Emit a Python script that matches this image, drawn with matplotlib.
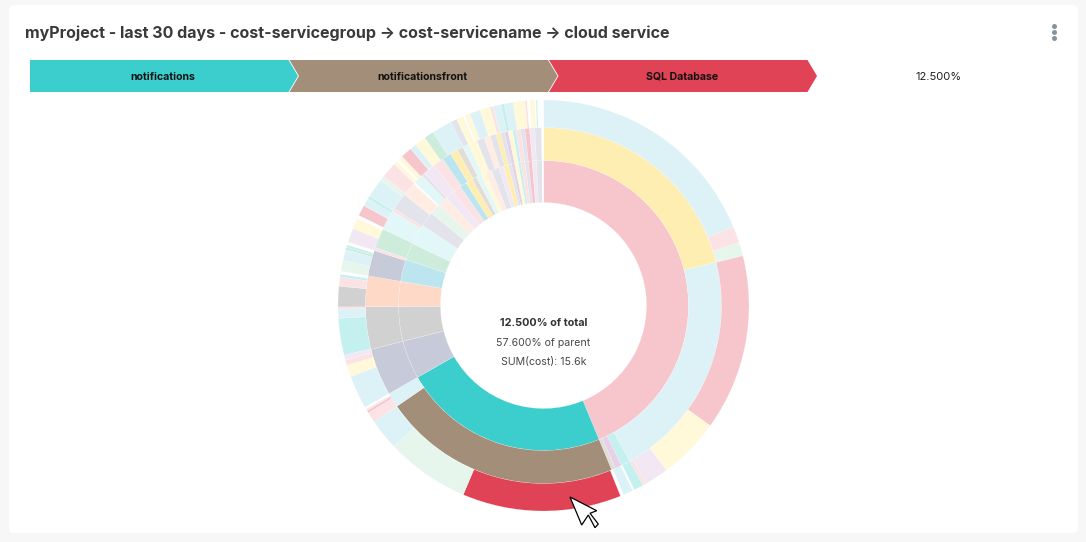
"""Sunburst of cost by service group, service name and cloud service."""

import matplotlib
matplotlib.use('Agg')
import matplotlib.pyplot as plt
import numpy as np
from matplotlib.patches import FancyBboxPatch, Polygon

plt.rcParams['font.family'] = ['Inter', 'DejaVu Sans']

W, H = 1086, 542
CX, CY = 543.5, H - 305.5

# faded palette
PINK = '#F6C6CC'; ROSE = '#FAE2E5'
YEL = '#FEEEB2'; PYEL = '#FFF8D9'
BLUE = '#BCE5EF'; PBLUE = '#DDF2F7'
GRN = '#CEECDC'; PGRN = '#E6F6ED'
CYAN = '#C5F0F0'; PCYAN = '#E2F7F7'
SLATE = '#C7CAD8'; PSLATE = '#E3E4EB'
GRAY = '#D1D1D1'; PEACH = '#FFD9C7'; PPEACH = '#FFECE3'
LIL = '#E5D2E9'; PLIL = '#F2E8F4'; BEIGE = '#E3DDD7'
WHITE = '#FFFFFF'
TEAL = '#3CCDCD'; BROWN = '#A38F79'; RED = '#E04355'

# slice end angles, clockwise from 12 o'clock
ring1_ends = [157.5, 240.3, 255.7, 269.6, 279.6, 288.5, 295.3, 303.5, 309.5, 314, 318, 321.5,
              325, 327.7, 330.5, 332.4, 334.5, 336.5, 339, 342, 344, 346, 347.3, 348.5, 350,
              351, 352.6, 354, 355.5, 357.2, 359.4, 360]
ring1_colors = [PINK, TEAL, SLATE, GRAY, PEACH, BLUE, GRN, PCYAN, PSLATE, PGRN, PPEACH, PLIL,
                ROSE, BLUE, YEL, BEIGE, PCYAN, PYEL, PPEACH, PSLATE, PLIL, YEL, PSLATE, LIL, PYEL,
                CYAN, ROSE, PSLATE, PINK, PLIL, PSLATE, WHITE]

ring2_ends = [75.9, 151, 154, 156.2, 157.5, 235.5, 240.3, 255.7, 269.6, 279.6, 288, 289, 295.5,
              302, 303, 308.6, 313.2, 313.7, 317, 318, 322, 325.5, 328.5, 331, 333, 335, 338,
              340.5, 342.5, 344.5, 346, 347.3, 348.5, 350, 351, 352.6, 354, 355.5, 357.2,
              359.4, 360]
ring2_colors = [YEL, PBLUE, CYAN, LIL, BEIGE, BROWN, PBLUE, SLATE, GRAY, PEACH, SLATE, ROSE, GRN,
                PCYAN, ROSE, PSLATE, PPEACH, WHITE, PCYAN, PSLATE, PLIL, ROSE, BLUE, YEL, BEIGE,
                PCYAN, PYEL, PSLATE, PPEACH, PSLATE, YEL, PSLATE, LIL, PYEL, CYAN, ROSE,
                PSLATE, PINK, PLIL, PSLATE, WHITE]

ring3_ends = [67.5, 72.2, 76, 125.8, 143.3, 150, 151, 153.8, 154.3, 157.1, 158, 203, 226.7, 235.5,
              238.5, 239.2, 239.7, 240.3, 249.8, 253.1, 254.6, 256, 266.4, 269, 269.6, 275.4,
              278, 278.8, 279.6, 282.7, 285.8, 286.5, 287.2, 288, 292, 295, 296, 299.1, 301.3,
              302.2, 307.6, 309, 313.4, 314.5, 315.2, 316.5, 319.7, 321.5, 324.7, 327.5, 333.2,
              335, 337, 337.5, 339, 342, 344.9, 345.8, 348, 349, 351.5, 354.8, 355.4, 356.2,
              357.6, 357.9, 358.3, 360]
ring3_colors = [PBLUE, ROSE, PGRN, PINK, PYEL, PLIL, ROSE, CYAN, WHITE, PBLUE, WHITE, RED, PGRN, PBLUE,
                ROSE, PINK, ROSE, WHITE, PBLUE, PYEL, ROSE, PLIL, CYAN, PBLUE, ROSE, GRAY,
                ROSE, CYAN, WHITE, PGRN, PBLUE, GRN, CYAN, WHITE, PLIL, PYEL, WHITE, PINK, PBLUE,
                CYAN, PBLUE, PGRN, ROSE, PYEL, WHITE, PYEL, PINK, PBLUE, PYEL, GRN, PBLUE,
                PSLATE, PYEL, WHITE, PYEL, PBLUE, PYEL, ROSE, PBLUE, CYAN, PBLUE, PYEL, ROSE, WHITE,
                PYEL, WHITE, CYAN, WHITE]

ring_radii = [103, 145, 178, 205.5]

crumb_labels = ['notifications', 'notificationsfront', 'SQL Database']
crumb_colors = [TEAL, BROWN, RED]
crumb_total = '12.500%'
title = 'myProject - last 30 days - cost-servicegroup → cost-servicename → cloud service'
center_lines = ['12.500% of total', '57.600% of parent', 'SUM(cost): 15.6k']

fig = plt.figure(figsize=(W / 100, H / 100), dpi=100, facecolor='#F7F7F7')
ax = fig.add_axes([0, 0, 1, 1])

card = FancyBboxPatch((9, H - 533), 1069, 528, boxstyle='round,pad=0,rounding_size=5',
                      fc='white', ec='none')
ax.add_patch(card)

rings = [(ring1_ends, ring1_colors), (ring2_ends, ring2_colors), (ring3_ends, ring3_colors)]
for i, (ends, colors) in enumerate(rings):
    sizes = np.diff([0] + ends)
    ax.pie(sizes, colors=colors, radius=ring_radii[i + 1], center=(CX, CY), startangle=90,
           counterclock=False,
           wedgeprops=dict(width=ring_radii[i + 1] - ring_radii[i], edgecolor='white', linewidth=0.12))

ax.set_aspect('auto')
ax.set_xlim(0, W)
ax.set_ylim(0, H)
ax.axis('off')

ax.text(25, H - 33, title, fontsize=11.55, fontweight='bold', color='#3A3A3A', va='center')

# three dot menu
ax.scatter([1054, 1054, 1054], [H - 26, H - 32, H - 38], s=13, color='#87939A', linewidths=0)

# breadcrumb chevrons
for i, label in enumerate(crumb_labels):
    left = 30 + i * 259.5
    right = left + 258.5
    pts = [(left, 60), (right, 60), (right + 9.5, 76), (right, 92), (left, 92)]
    if i:
        pts.append((left + 9.5, 76))
    ax.add_patch(Polygon([(x, H - y) for x, y in pts], closed=True, fc=crumb_colors[i], ec='none'))
    ax.text((left + right) / 2 + 4, H - 76.5, label, fontsize=7.6, fontweight='bold',
            color='#111111', ha='center', va='center')
ax.text(939, H - 76.5, crumb_total, fontsize=8, color='#222222', ha='center', va='center')

# centre labels
ax.text(CX, H - 322.5, center_lines[0], fontsize=7.8, fontweight='bold', color='#323232', ha='center', va='center')
ax.text(CX, H - 342.5, center_lines[1], fontsize=7.6, color='#484848', ha='center', va='center')
ax.text(CX, H - 362.5, center_lines[2], fontsize=7.6, color='#484848', ha='center', va='center')

# mouse pointer
cursor = [(570, 497), (581.7, 525), (588.3, 515), (595, 527.7), (598.3, 524), (590, 513.3), (596.7, 510.7)]
ax.add_patch(Polygon([(x, H - y) for x, y in cursor], closed=True, fc='white', ec='black', lw=0.9, zorder=20))

fig.savefig('out.png', dpi=100, facecolor=fig.get_facecolor())
